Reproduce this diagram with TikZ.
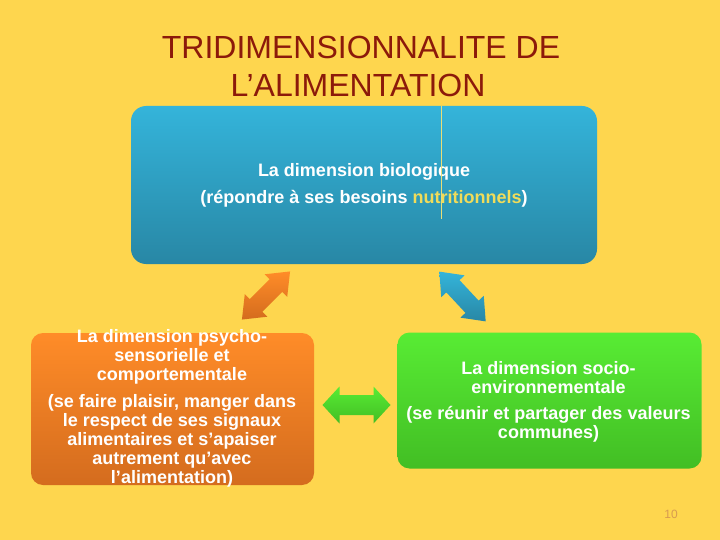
\documentclass[tikz,border=0pt]{standalone}
\usepackage{fontspec}
\setmainfont{Liberation Sans}
\definecolor{bg}{RGB}{254,214,78}
\definecolor{titlec}{RGB}{140,26,10}
\definecolor{blueT}{RGB}{52,180,218}
\definecolor{blueB}{RGB}{40,135,165}
\definecolor{orT}{RGB}{255,140,40}
\definecolor{orB}{RGB}{212,108,30}
\definecolor{grT}{RGB}{88,236,52}
\definecolor{grB}{RGB}{66,190,36}
\definecolor{nutri}{RGB}{240,220,90}
\definecolor{pagec}{RGB}{215,155,80}
\definecolor{vline}{RGB}{232,222,120}
\newcommand\dblarr[7]{%
\begin{scope}[shift={(#1)},rotate=#2]
\pgfmathsetmacro\aL{#3/2}\pgfmathsetmacro\aB{#3/2-#4}
\path[#7] (-\aL,0) -- (-\aB,#5) -- (-\aB,#6) -- (\aB,#6) -- (\aB,#5) -- (\aL,0)
  -- (\aB,-#5) -- (\aB,-#6) -- (-\aB,-#6) -- (-\aB,-#5) -- cycle;
\end{scope}}
\begin{document}
\begin{tikzpicture}[x=1pt,y=-1pt,
  box/.style={inner sep=0pt, outer sep=0pt},
  boxtext/.style={text=white, font=\fontsize{18}{19}\selectfont\bfseries, align=center, inner sep=0pt},
  titlestyle/.style={text=titlec, font=\fontsize{32}{38}\selectfont, inner sep=0pt, anchor=base}]
\useasboundingbox (0,0) rectangle (720,540);
\fill[bg] (0,0) rectangle (720,540);
% title
\node[titlestyle] (t1) at (361,59) {TRIDIMENSIONNALITE DE};
\node[titlestyle] (t2) at (358,97) {L’ALIMENTATION};
% boxes
\node[box, rounded corners=15pt, minimum width=466pt, minimum height=158pt, top color=blueT, bottom color=blueB] (bio) at (364,185) {};
\node[boxtext] (biotext) at (364,185.5) {La dimension biologique\\[8pt](répondre à ses besoins \textcolor{nutri}{nutritionnels})};
\node[box, rounded corners=12pt, minimum width=283pt, minimum height=152pt, top color=orT, bottom color=orB] (psy) at (172.5,409) {};
\node[boxtext] (psytext) at (172,408) {La dimension psycho-\\sensorielle et\\comportementale\\[8pt](se faire plaisir, manger dans\\le respect de ses signaux\\alimentaires et s’apaiser\\autrement qu’avec\\l’alimentation)};
\node[box, rounded corners=12pt, minimum width=304pt, minimum height=136pt, top color=grT, bottom color=grB] (soc) at (549.5,400.5) {};
\node[boxtext] (soctext) at (548.5,401.5) {La dimension socio-\\environnementale\\[7pt](se réunir et partager des valeurs\\communes)};
% thin vertical line
\coordinate (v1) at (441.7,106);
\coordinate (v2) at (441.7,219);
\draw[vline, line width=1pt] (v1) -- (v2);
% double arrows
\coordinate (oa) at (266,295.5);
\coordinate (ba) at (462.5,296.5);
\coordinate (ga) at (356.5,405);
\dblarr{oa}{45}{68}{20}{16}{9}{top color=orT,bottom color=orB}
\dblarr{ba}{-47}{68}{20}{16}{9}{top color=blueT,bottom color=blueB}
\dblarr{ga}{0}{68}{17}{18.5}{10}{top color=grT,bottom color=grB}
% page number
\node[font=\fontsize{12}{14}\selectfont, text=pagec, inner sep=0pt] (pg) at (671,514.5) {10};
\end{tikzpicture}
\end{document}
